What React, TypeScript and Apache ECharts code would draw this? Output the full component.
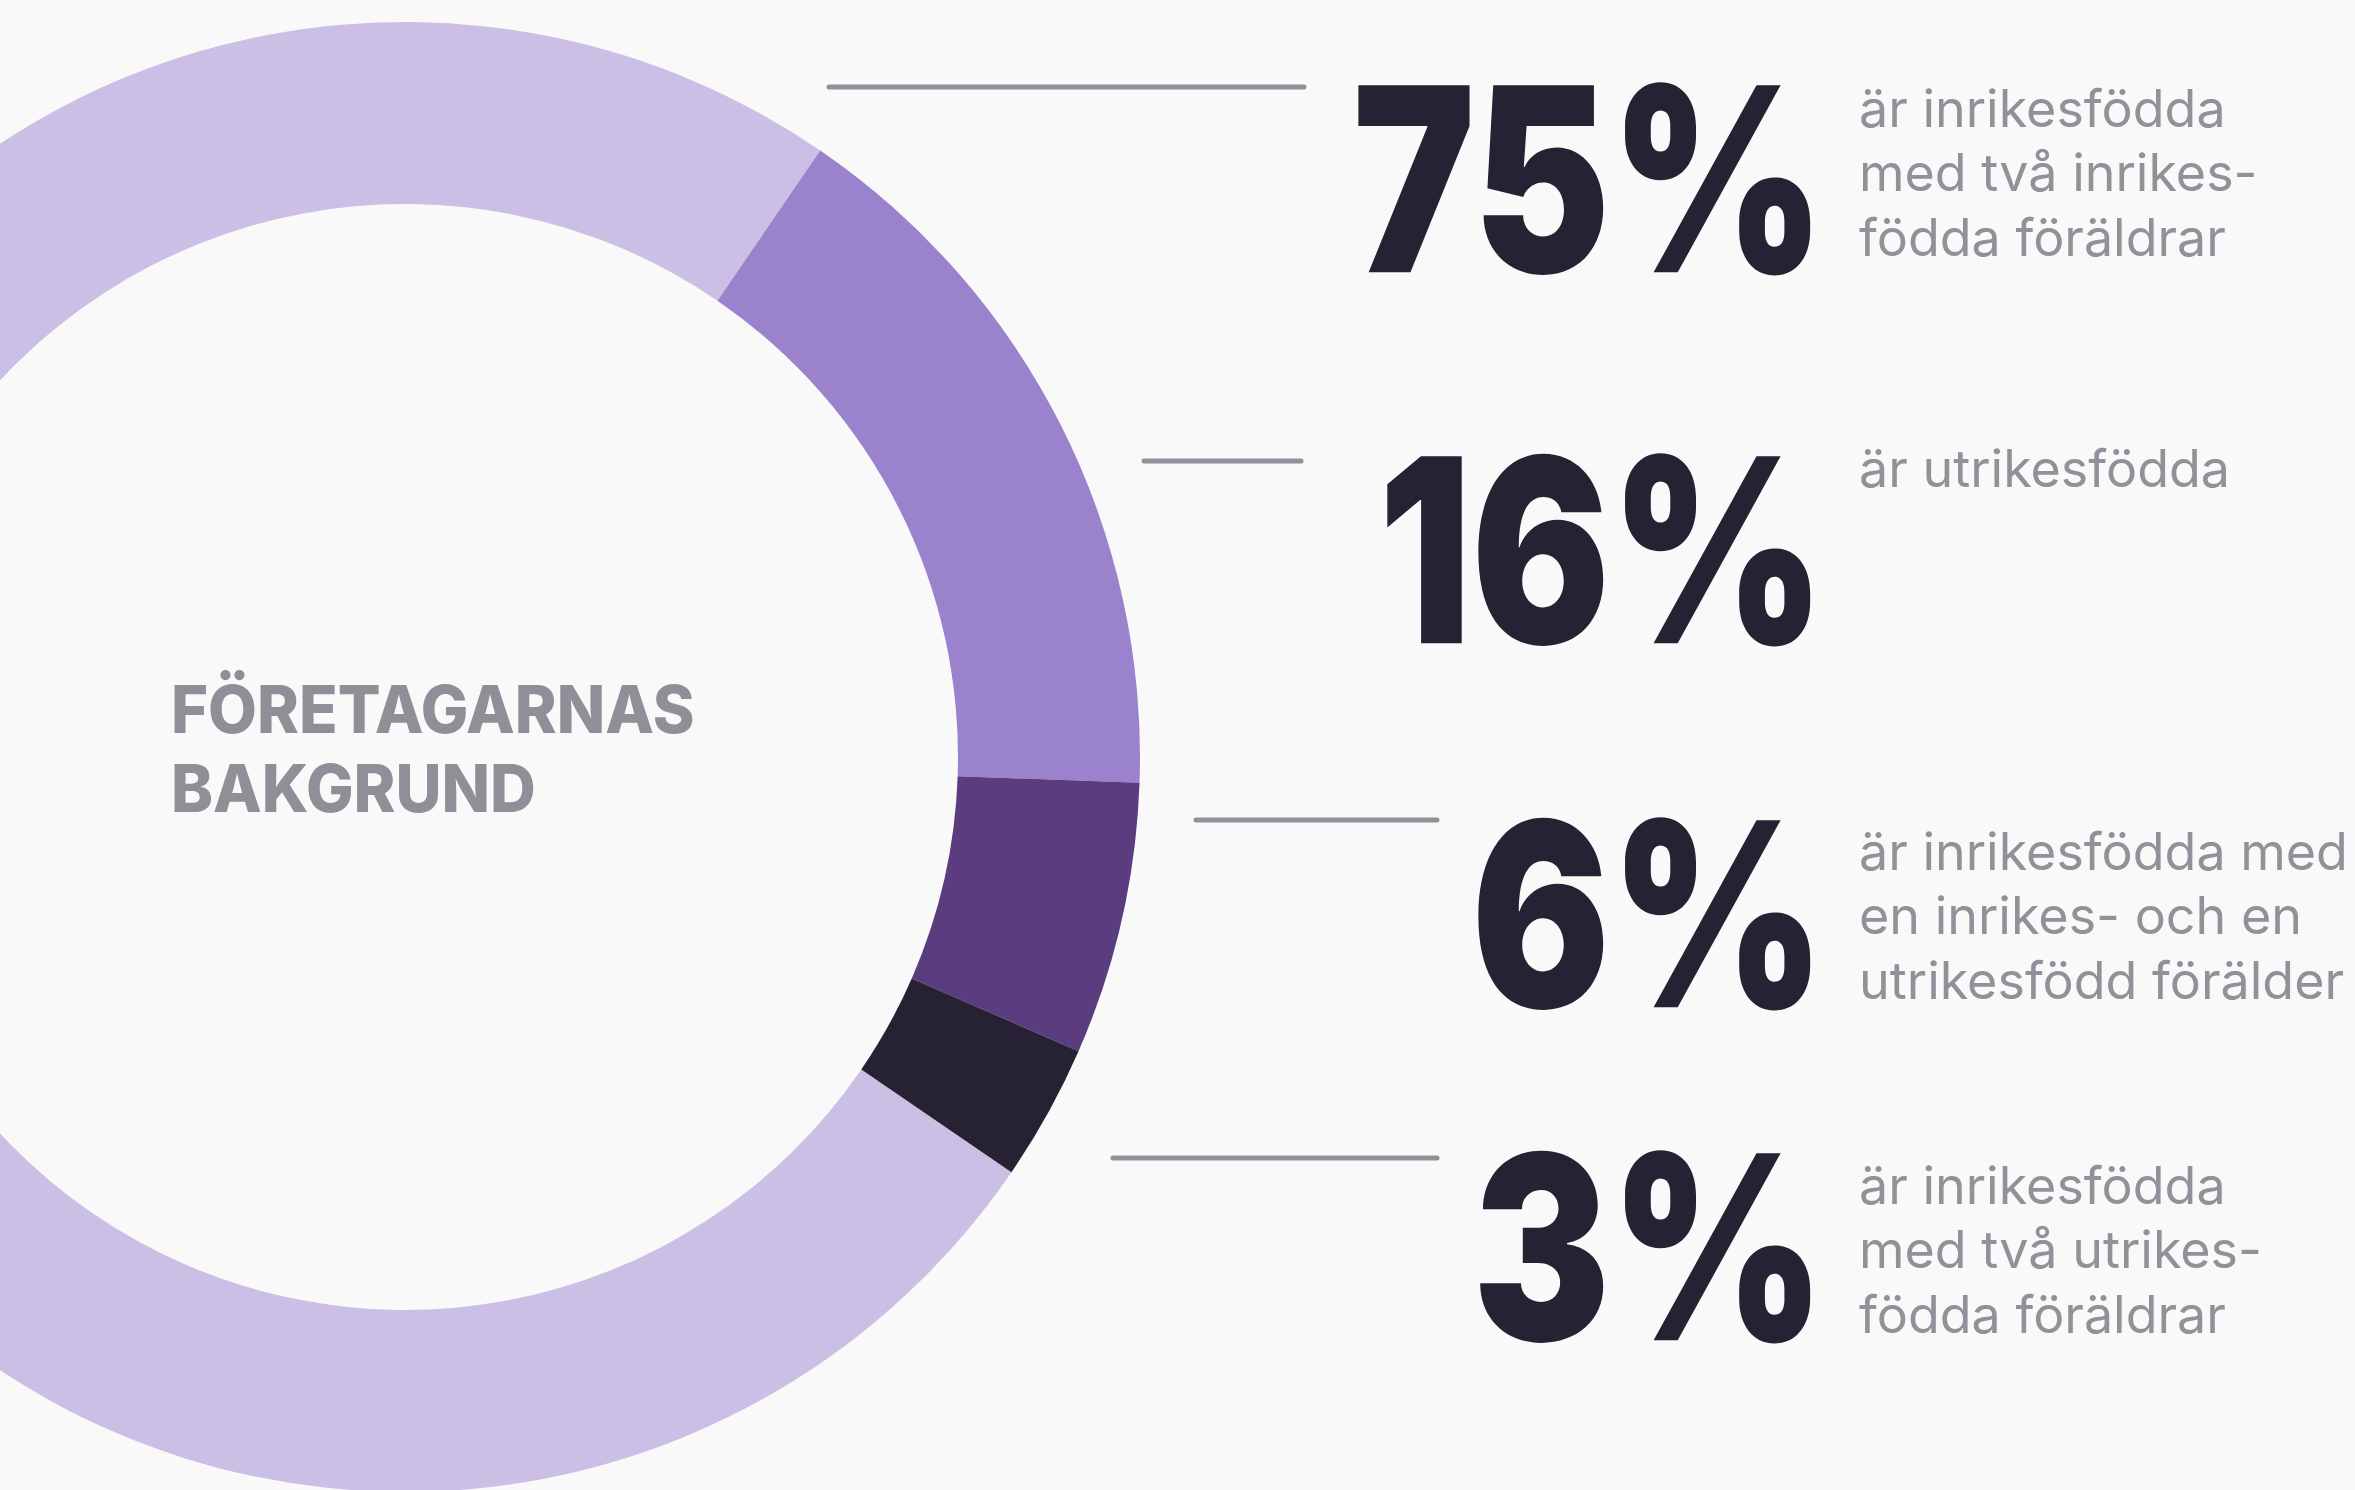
import React, { useEffect, useRef } from 'react';
import * as echarts from 'echarts';

// ---- data ----
const categories = [
  'Inrikesfödda med två inrikesfödda föräldrar',
  'Utrikesfödda',
  'Inrikesfödda med en inrikes- och en utrikesfödd förälder',
  'Inrikesfödda med två utrikesfödda föräldrar',
];
const shares = [75, 16, 6, 3];
const descriptions = [
  'är inrikesfödda\nmed två inrikes-\nfödda föräldrar',
  'är utrikesfödda',
  'är inrikesfödda med\nen inrikes- och en\nutrikesfödd förälder',
  'är inrikesfödda\nmed två utrikes-\nfödda föräldrar',
];
const centerTitle = 'FÖRETAGARNAS\nBAKGRUND';

// ---- layout / style ----
const W = 2355;
const H = 1490;
const BG = '#f9f9f9';
const sliceColors = ['#cbbfe5', '#9b82cc', '#5b3d7f', '#262233'];
const numberColor = '#262233';
const greyText = '#929099';
const lineColor = '#929098';

const numberCapTop = [85, 456, 820, 1153];
const numberCapH = 187;
const numberRight = 1825;
const numberScaleX = 0.8;
const descLeft = 1859;
const descFirstBaseline = [127, 487, 870, 1204];
const descFont = 52;
const descLineH = 64.5;
const leaderY = [87, 461, 820, 1158];
const leaderX = [
  [829, 1304],
  [1144, 1301],
  [1196, 1437],
  [1113, 1437],
];

export default function App() {
  const ref = useRef<HTMLDivElement>(null);

  useEffect(() => {
    document.body.style.margin = '0';
    const chart = echarts.init(ref.current!, null, { renderer: 'svg', width: W, height: H });

    const graphics: any[] = [];
    shares.forEach((v, i) => {
      graphics.push({
        type: 'line',
        silent: true,
        shape: { x1: leaderX[i][0], y1: leaderY[i], x2: leaderX[i][1], y2: leaderY[i] },
        style: { stroke: lineColor, lineWidth: 5, lineCap: 'round' },
      });
      graphics.push({
        type: 'text',
        silent: true,
        x: numberRight,
        y: numberCapTop[i] + numberCapH / 2,
        scaleX: numberScaleX,
        style: {
          text: `${v}%`,
          fontFamily: 'Inter',
          fontWeight: 900,
          fontSize: numberCapH / 0.727,
          fill: numberColor,
          align: 'right',
          verticalAlign: 'middle',
        },
      });
      graphics.push({
        type: 'text',
        silent: true,
        x: descLeft,
        y: descFirstBaseline[i] - 0.3635 * descFont - descLineH / 2,
        style: {
          text: descriptions[i],
          fontFamily: 'Inter',
          fontWeight: 400,
          fontSize: descFont,
          lineHeight: descLineH,
          fill: greyText,
          align: 'left',
          verticalAlign: 'top',
        },
      });
    });
    graphics.push({
      type: 'text',
      silent: true,
      x: 171,
      y: 709 - 39.5,
      scaleX: 0.96,
      style: {
        text: centerTitle,
        fontFamily: 'Inter',
        fontWeight: 800,
        fontSize: 66,
        lineHeight: 79,
        fill: '#908e97',
        align: 'left',
        verticalAlign: 'top',
      },
    });

    chart.setOption({
      animation: false,
      backgroundColor: BG,
      series: [
        {
          type: 'pie',
          center: [405, 757],
          radius: [553, 735],
          startAngle: 325.6,
          clockwise: true,
          silent: true,
          avoidLabelOverlap: false,
          label: { show: false },
          labelLine: { show: false },
          emphasis: { disabled: true },
          itemStyle: { borderWidth: 0 },
          data: categories.map((name, i) => ({
            name,
            value: shares[i],
            itemStyle: { color: sliceColors[i] },
          })),
        },
      ],
      graphic: graphics,
    });

    return () => chart.dispose();
  }, []);

  return <div ref={ref} style={{ width: W, height: H, background: BG }} />;
}
